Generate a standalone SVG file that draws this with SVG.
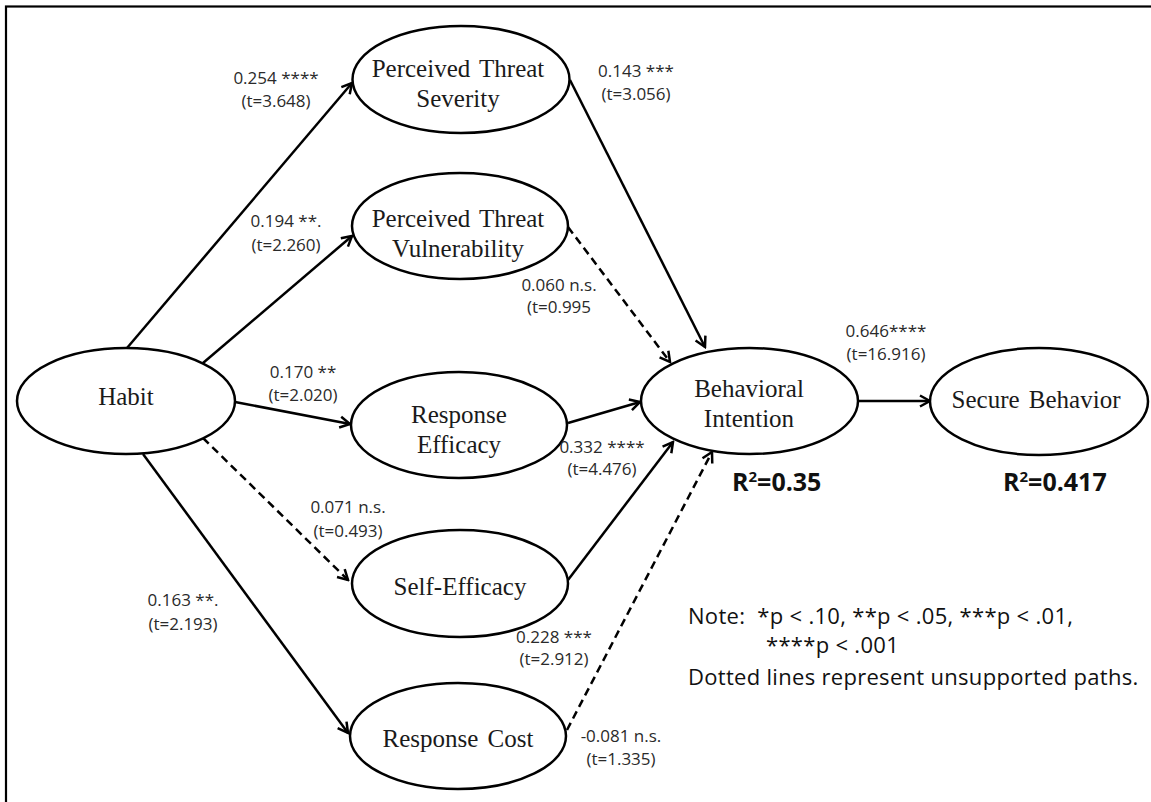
<svg xmlns="http://www.w3.org/2000/svg" width="1151" height="802" viewBox="0 0 1151 802">
  <style>
    .node ellipse { fill: #fff; stroke: #000; stroke-width: 2.5; }
    .node text { font-family: "Liberation Serif", "Times New Roman", serif; font-size: 25px; fill: #1a1a1a; text-anchor: middle; word-spacing: 3px; }
    .edge { stroke: #000; stroke-width: 2.5; fill: none; marker-end: url(#arrow); }
    .dashed { stroke-dasharray: 8 5; }
    .lbl { font-family: "Open Sans", "Liberation Sans", sans-serif; font-size: 17px; fill: #2a2a2a; text-anchor: middle; }
    .r2 { font-family: "Open Sans", "Liberation Sans", sans-serif; font-size: 25px; font-weight: bold; fill: #111; }
    .note { font-family: "Open Sans", "Liberation Sans", sans-serif; font-size: 22px; letter-spacing: 0.3px; fill: #111; }
  </style>
  <defs>
    <marker id="arrow" markerUnits="userSpaceOnUse" markerWidth="14" markerHeight="14" refX="12" refY="7" orient="auto">
      <path d="M2,1.5 L12,7 L2,12.5" fill="none" stroke="#000" stroke-width="2.5" stroke-linejoin="miter"/>
    </marker>
  </defs>

  <rect width="1151" height="802" fill="#fff"/>
  <!-- outer frame (right and bottom sides fall outside the canvas) -->
  <rect x="6" y="6.5" width="1170" height="820" fill="none" stroke="#000" stroke-width="2.2"/>

  <g id="connectors">
    <line class="edge" x1="127" y1="348" x2="352" y2="83"/>
    <line class="edge" x1="203" y1="363" x2="352" y2="236"/>
    <line class="edge" x1="235" y1="402" x2="350" y2="424"/>
    <line class="edge dashed" x1="203" y1="438" x2="348" y2="580"/>
    <line class="edge" x1="143" y1="454" x2="348" y2="733"/>
    <line class="edge" x1="570" y1="80" x2="705" y2="347"/>
    <line class="edge dashed" x1="568" y1="227" x2="670" y2="362"/>
    <line class="edge" x1="568" y1="423" x2="640" y2="402"/>
    <line class="edge" x1="568" y1="580" x2="673" y2="442"/>
    <line class="edge dashed" x1="567" y1="730" x2="712" y2="452"/>
    <line class="edge" x1="858" y1="401" x2="930" y2="401"/>
  </g>

  <g id="habit" class="node">
    <ellipse cx="126" cy="401" rx="109" ry="53"/>
    <text x="126" y="405">Habit</text>
  </g>
  <g id="threat-severity" class="node">
    <ellipse cx="461" cy="79.5" rx="108.5" ry="53.5"/>
    <text x="458" y="77">Perceived Threat</text>
    <text x="458" y="107">Severity</text>
  </g>
  <g id="threat-vulnerability" class="node">
    <ellipse cx="460" cy="226" rx="108" ry="53"/>
    <text x="458" y="227">Perceived Threat</text>
    <text x="458" y="257">Vulnerability</text>
  </g>
  <g id="response-efficacy" class="node">
    <ellipse cx="459" cy="425" rx="108" ry="53"/>
    <text x="459" y="423">Response</text>
    <text x="459" y="453">Efficacy</text>
  </g>
  <g id="self-efficacy" class="node">
    <ellipse cx="460" cy="583.5" rx="108" ry="53.5"/>
    <text x="460" y="595">Self-Efficacy</text>
  </g>
  <g id="response-cost" class="node">
    <ellipse cx="458" cy="736" rx="108" ry="53"/>
    <text x="458" y="747">Response Cost</text>
  </g>
  <g id="behavioral-intention" class="node">
    <ellipse cx="749.5" cy="401" rx="108.5" ry="53"/>
    <text x="749" y="397">Behavioral</text>
    <text x="749" y="427">Intention</text>
  </g>
  <g id="secure-behavior" class="node">
    <ellipse cx="1039" cy="401.5" rx="109" ry="53.5"/>
    <text x="1036" y="408">Secure Behavior</text>
  </g>

  <g id="path-labels">
    <text class="lbl" x="276" y="84">0.254 ****</text>
    <text class="lbl" x="276" y="107">(t=3.648)</text>
    <text class="lbl" x="286" y="227">0.194 **.</text>
    <text class="lbl" x="286" y="251">(t=2.260)</text>
    <text class="lbl" x="303" y="378">0.170 **</text>
    <text class="lbl" x="303" y="401">(t=2.020)</text>
    <text class="lbl" x="636" y="77">0.143 ***</text>
    <text class="lbl" x="636" y="100">(t=3.056)</text>
    <text class="lbl" x="559" y="291">0.060 n.s.</text>
    <text class="lbl" x="559" y="313">(t=0.995</text>
    <text class="lbl" x="886" y="337">0.646****</text>
    <text class="lbl" x="886" y="360">(t=16.916)</text>
    <text class="lbl" x="602" y="453">0.332 ****</text>
    <text class="lbl" x="602" y="475">(t=4.476)</text>
    <text class="lbl" x="348" y="513">0.071 n.s.</text>
    <text class="lbl" x="348" y="537">(t=0.493)</text>
    <text class="lbl" x="183" y="606">0.163 **.</text>
    <text class="lbl" x="183" y="630">(t=2.193)</text>
    <text class="lbl" x="554" y="643">0.228 ***</text>
    <text class="lbl" x="554" y="665">(t=2.912)</text>
    <text class="lbl" x="621" y="742">-0.081 n.s.</text>
    <text class="lbl" x="621" y="765">(t=1.335)</text>
  </g>

  <g id="r-squared">
    <text class="r2" x="732" y="491">R<tspan dy="-9" font-size="15">2</tspan><tspan dy="9">=0.35</tspan></text>
    <text class="r2" x="1003" y="491">R<tspan dy="-9" font-size="15">2</tspan><tspan dy="9">=0.417</tspan></text>
  </g>

  <g id="note">
    <text class="note" x="688" y="624" xml:space="preserve">Note:  *p &lt; .10, **p &lt; .05, ***p &lt; .01,</text>
    <text class="note" x="766" y="653">****p &lt; .001</text>
    <text class="note" x="688" y="685">Dotted lines represent unsupported paths.</text>
  </g>
</svg>
